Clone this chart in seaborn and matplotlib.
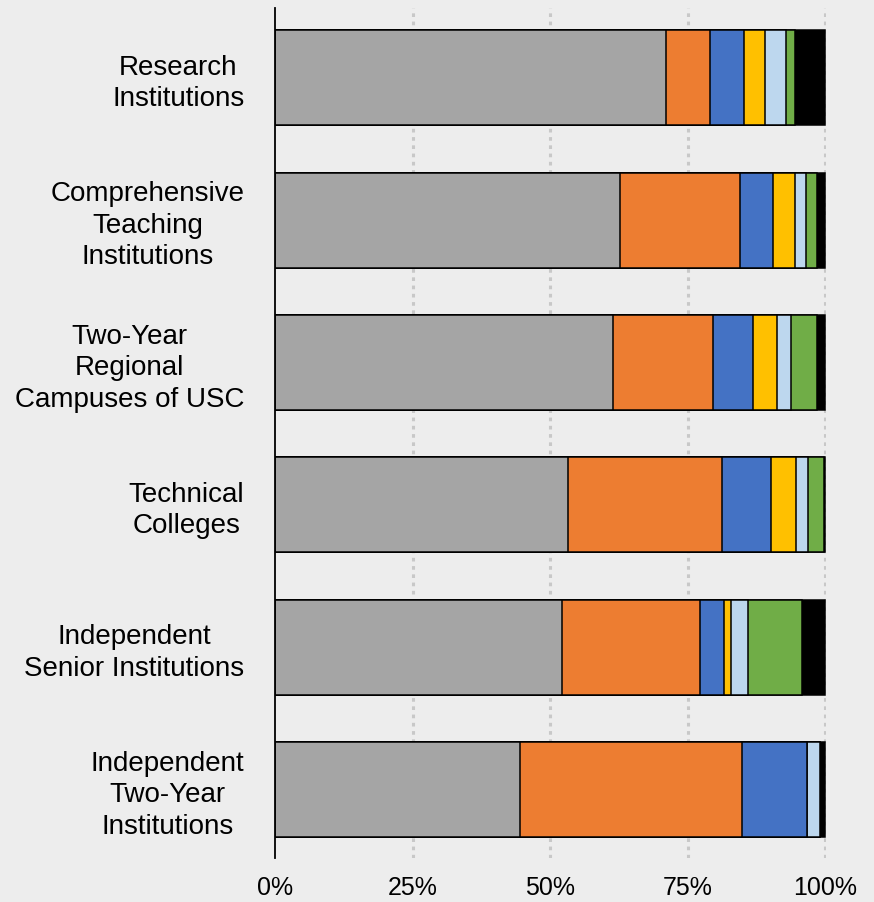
import numpy as np
import pandas as pd
import matplotlib
matplotlib.use("Agg")
import matplotlib.pyplot as plt
import seaborn as sns

# Categories (top to bottom)
categories = ["Research\nInstitutions",
              "Comprehensive\nTeaching\nInstitutions",
              "Two-Year\nRegional\nCampuses of USC",
              "Technical\nColleges",
              "Independent\nSenior Institutions",
              "Independent\nTwo-Year\nInstitutions"]

# Segment shares (%), left to right
seg_gray      = [71.0, 62.7, 61.4, 53.3, 52.1, 44.6]
seg_orange    = [8.1, 21.7, 18.1, 27.9, 25.2, 40.3]
seg_blue      = [6.2, 6.1, 7.3, 9.0, 4.2, 11.7]
seg_yellow    = [3.8, 4.0, 4.5, 4.4, 1.3, 0.0]
seg_lightblue = [3.8, 2.0, 2.4, 2.3, 3.2, 2.4]
seg_green     = [1.6, 1.9, 4.8, 2.8, 9.7, 0.0]
seg_black     = [5.5, 1.6, 1.5, 0.3, 4.3, 1.0]

segments = [seg_gray, seg_orange, seg_blue, seg_yellow, seg_lightblue, seg_green, seg_black]
colors = ["#A5A5A5", "#ED7D31", "#4472C4", "#FFC000", "#BDD7EE", "#70AD47", "#000000"]

# --- cumulative ends, normalised to 100 ---
vals = np.array(segments, dtype=float)
vals = vals / vals.sum(axis=0) * 100
cum = np.cumsum(vals, axis=0)

sns.set_style("white")
plt.rcParams['font.family'] = ['Liberation Sans', 'DejaVu Sans']
plt.rcParams['text.color'] = 'black'
plt.rcParams['xtick.color'] = 'black'
plt.rcParams['ytick.color'] = 'black'
bg = "#EDEDED"

fig = plt.figure(figsize=(8.74, 9.02), dpi=100, facecolor=bg)
ax = fig.add_axes([0.3146, 0.0488, 0.6304, 0.9424])
ax.set_facecolor(bg)

# draw from the full bar down so every segment shows on top of the next
for i in range(len(segments) - 1, -1, -1):
    df = pd.DataFrame({'cat': categories, 'end': cum[i]})
    sns.barplot(data=df, x='end', y='cat', orient='h', color=colors[i],
                edgecolor='black', linewidth=1.1, width=0.667,
                saturation=1, ax=ax, zorder=3)

ax.set_xlim(0, 100.1)
ax.set_ylim(5.48, -0.49)
ax.set_xticks([0, 25, 50, 75, 100])
ax.set_xticklabels(["0%", "25%", "50%", "75%", "100%"], fontsize=18)
ax.tick_params(axis='x', length=0, pad=13, labelcolor='black')
ax.tick_params(axis='y', length=0, pad=22, labelsize=20, labelcolor='black')
for lbl in ax.get_yticklabels():
    lbl.set_multialignment('center')
    lbl.set_linespacing(1.27)
ax.set_xlabel("")
ax.set_ylabel("")

for x in [25, 50, 75, 100]:
    ax.axvline(x, color="#C8C8C8", linestyle=(0, (1.2, 1.5)), linewidth=2.2, zorder=1)

for s in ['top', 'right', 'bottom']:
    ax.spines[s].set_visible(False)
ax.spines['left'].set_color('black')
ax.spines['left'].set_linewidth(1.3)
ax.spines['left'].set_zorder(5)

plt.savefig("out.png", dpi=100, facecolor=bg)
